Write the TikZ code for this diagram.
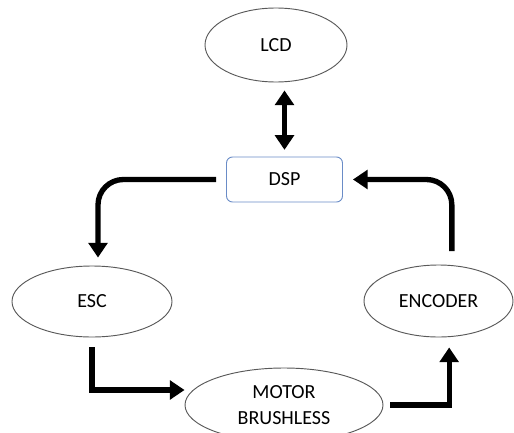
\documentclass[tikz,border=0pt]{standalone}
\usepackage{fontspec}
\setmainfont{Carlito}
\usetikzlibrary{shapes.geometric,arrows.meta}

\definecolor{dspblue}{HTML}{6A8CC7}
\definecolor{rimgray}{HTML}{595959}

\begin{document}
\begin{tikzpicture}[x=0.75pt, y=-0.75pt,
    font=\fontsize{15}{19.5}\selectfont,
    >={Triangle[width=14pt,length=11pt]},
    part/.style={ellipse, draw=rimgray, line width=0.7pt, inner sep=0pt, align=center},
    flow/.style={line width=4pt, ->}]
    \useasboundingbox (0,0) rectangle (514,432);
    \clip (0,0) rectangle (514,432);

    % LCD
    \node (lcd) at (276,45) [part, minimum width=106.5pt, minimum height=55.5pt] {LCD};

    % DSP
    \node (dsp) at (284.5,179.5) [draw=dspblue, line width=0.7pt, rounded corners=4.5pt,
        minimum width=87pt, minimum height=33.75pt] {DSP};

    % ESC, motor and encoder
    \node (esc) at (92,301.5) [part, minimum width=120pt, minimum height=53.25pt] {ESC};
    \node (motor) at (284,405) [part, minimum width=148.5pt, minimum height=55.5pt] {MOTOR\\BRUSHLESS};
    \node (encoder) at (438.5,301) [part, minimum width=111.75pt, minimum height=54pt] {ENCODER};

    % Arrows
    % lcd and dsp
    \draw[flow, <->, shorten <=6pt, shorten >=5pt] (lcd.south -| dsp.north) -- (dsp.north);
    % dsp to esc
    \draw[flow, rounded corners=19pt, shorten <=7.5pt, shorten >=6pt] (dsp.west) -| ([xshift=4.5pt]esc.north);
    % esc to motor
    \draw[flow, shorten <=7.5pt] (esc.south) |- ([yshift=11.25pt]motor.west);
    % motor to encoder
    \draw[flow, shorten <=5pt, shorten >=7.5pt] (motor.east) -| ([xshift=8pt]encoder.south);
    % encoder to dsp
    \draw[flow, rounded corners=19pt, shorten <=10pt, shorten >=7.5pt] ([xshift=10pt]encoder.north) |- (dsp.east);

\end{tikzpicture}
\end{document}
